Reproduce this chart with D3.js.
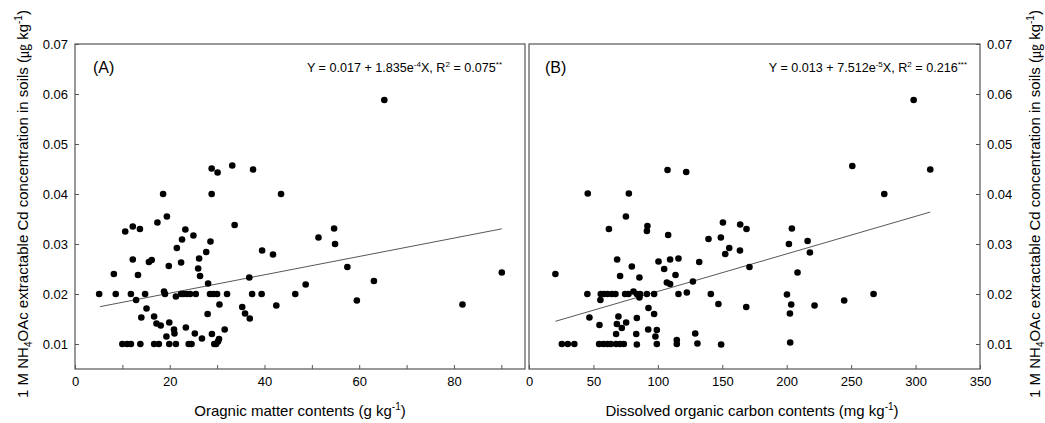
<!DOCTYPE html>
<html>
<head>
<meta charset="utf-8">
<script src="https://cdn.jsdelivr.net/npm/d3@7"></script>
<style>
body { margin: 0; background: #fff; }
text { font-family: Arial, "Liberation Sans", sans-serif; fill: #000; }
</style>
</head>
<body>
<div id="chart"></div>
<script>
// panel A: organic matter (g/kg) vs Cd
const omX = [5.1, 8.2, 8.6, 10.0, 10.6, 11.0, 11.8, 11.8, 12.2, 12.2, 12.9, 13.3, 13.7, 13.8, 14.0, 14.8, 15.1, 15.6, 16.2, 16.7,
  16.7, 17.2, 17.4, 17.7, 18.1, 18.6, 18.8, 19.0, 19.3, 19.4, 19.8, 19.9, 19.9, 20.9, 21.0, 21.3, 21.3, 21.5, 22.4, 22.4,
  22.6, 22.9, 23.3, 23.4, 23.6, 24.0, 24.3, 24.6, 25.0, 25.3, 25.5, 26.0, 26.2, 26.4, 26.8, 27.7, 28.0, 28.1, 28.5, 28.6,
  28.85, 28.85, 28.9, 29.2, 29.4, 29.8, 30.0, 30.1, 30.2, 30.4, 30.5, 31.6, 32.1, 33.2, 33.7, 35.3, 35.9, 36.8, 36.9, 37.4,
  37.6, 39.4, 39.5, 41.8, 42.5, 43.5, 46.5, 48.7, 51.4, 54.7, 54.9, 57.5, 59.5, 63.1, 65.3, 81.8, 90.1]
const omCd = [0.020, 0.024, 0.020, 0.010, 0.0325, 0.010, 0.020, 0.010, 0.0335, 0.0269, 0.0188, 0.0238, 0.033, 0.010, 0.0153, 0.020, 0.0171, 0.0264, 0.0268, 0.0155,
  0.010, 0.0141, 0.0343, 0.010, 0.0137, 0.040, 0.0205, 0.020, 0.0115, 0.0355, 0.0256, 0.0143, 0.010, 0.0129, 0.0121, 0.0195, 0.010, 0.0292, 0.0263, 0.020,
  0.0309, 0.020, 0.0329, 0.0133, 0.020, 0.010, 0.020, 0.010, 0.0317, 0.0121, 0.020, 0.0251, 0.0271, 0.0236, 0.0111, 0.0284, 0.016, 0.0221, 0.020, 0.0305,
  0.0451, 0.040, 0.012, 0.020, 0.010, 0.010, 0.020, 0.0443, 0.0105, 0.011, 0.0179, 0.0129, 0.020, 0.0457, 0.0338, 0.0174, 0.0161, 0.0233, 0.0151, 0.020,
  0.0449, 0.020, 0.0287, 0.0279, 0.0177, 0.040, 0.020, 0.0219, 0.0313, 0.0331, 0.030, 0.0254, 0.0187, 0.0226, 0.0588, 0.0179, 0.0243]

// panel B: dissolved organic carbon (mg/kg) vs Cd
const docX = [20.5, 25.5, 30.1, 35.2, 45.3, 45.6, 46.9, 54.4, 54.7, 55.4, 55.7, 57.8, 58.3, 60.9, 60.9, 62.0, 63.5, 64.3, 67.1, 67.6,
  67.6, 68.2, 68.4, 69.4, 70.7, 70.7, 72.0, 73.6, 74.6, 75.2, 75.4, 77.2, 77.5, 79.8, 81.1, 83.2, 83.7, 83.7, 83.7, 85.7,
  85.7, 86.2, 91.5, 91.5, 91.9, 92.5, 92.7, 97.1, 97.1, 98.1, 99.2, 99.2, 100.5, 104.9, 107.0, 107.5, 108.0, 109.5, 109.5, 113.7,
  114.7, 114.7, 116.0, 116.0, 122.0, 122.5, 127.2, 129.0, 130.7, 132.1, 139.3, 141.1, 147.0, 148.9, 149.1, 150.5, 152.3, 155.4, 163.7, 163.9,
  168.6, 168.8, 171.1, 200.2, 201.7, 202.5, 202.7, 203.5, 204.0, 208.4, 216.2, 218.0, 221.6, 244.6, 250.9, 267.4, 275.7, 298.5, 311.4]
const docCd = [0.024, 0.010, 0.010, 0.010, 0.020, 0.0401, 0.0153, 0.010, 0.0138, 0.0188, 0.020, 0.010, 0.020, 0.010, 0.020, 0.033, 0.010, 0.020, 0.020, 0.010,
  0.012, 0.014, 0.0269, 0.0155, 0.010, 0.0236, 0.0132, 0.010, 0.020, 0.0355, 0.0143, 0.020, 0.0401, 0.0255, 0.0205, 0.012, 0.020, 0.0152, 0.0099, 0.0233,
  0.0193, 0.020, 0.020, 0.0326, 0.0336, 0.0129, 0.0172, 0.020, 0.016, 0.0115, 0.0128, 0.010, 0.0265, 0.025, 0.0223, 0.0448, 0.0318, 0.0269, 0.022, 0.0238,
  0.0108, 0.010, 0.0271, 0.020, 0.0444, 0.0203, 0.0225, 0.0121, 0.0101, 0.0264, 0.031, 0.020, 0.018, 0.0313, 0.0099, 0.0343, 0.028, 0.0292, 0.0287, 0.0339,
  0.0174, 0.033, 0.0254, 0.0199, 0.030, 0.0161, 0.0103, 0.0179, 0.0331, 0.0243, 0.0306, 0.0283, 0.0177, 0.0187, 0.0456, 0.020, 0.040, 0.0588, 0.0449]

// fitted lines (intercept, slope, x range)
const fitA = {a: 0.0165, b: 1.835e-4, from: 5.3, to: 90.1}
const fitB = {a: 0.013, b: 7.512e-5, from: 20.5, to: 311.4}

const yTicks = [0.01, 0.02, 0.03, 0.04, 0.05, 0.06, 0.07]
const xTicksA = [0, 10, 20, 30, 40, 50, 60, 70, 80, 90]
const xTicksB = [0, 50, 100, 150, 200, 250, 300, 350]

const width = 1045
const height = 423
const plotTop = 44, plotBottom = 369

const svg = d3.select("#chart").append("svg").attr("width", width).attr("height", height)

const y = d3.scaleLinear().domain([0.005, 0.07]).range([plotBottom, plotTop])
const xA = d3.scaleLinear().domain([0, 95]).range([75, 525])
const xB = d3.scaleLinear().domain([0, 350]).range([529, 980])

function panel(x, xs, ys, fit, xTicks, labelEvery, yOnRight) {
    const g = svg.append("g")
    const [x0, x1] = x.range()

    g.append("rect").attr("x", x0).attr("y", plotTop).attr("width", x1 - x0).attr("height", plotBottom - plotTop)
        .attr("fill", "none").attr("stroke", "#555").attr("stroke-width", 1.2)

    const xAxis = d3.axisBottom(x).tickValues(xTicks).tickSize(-4).tickPadding(8)
        .tickFormat(d => d % labelEvery === 0 ? d : "")
    const xg = g.append("g").attr("transform", `translate(0, ${plotBottom})`).call(xAxis)

    const yAxis = (yOnRight ? d3.axisRight(y) : d3.axisLeft(y)).tickValues(yTicks).tickSize(-4).tickPadding(7)
        .tickFormat(d3.format(".2f"))
    const yg = g.append("g").attr("transform", `translate(${yOnRight ? x1 : x0}, 0)`).call(yAxis)

    for (const ag of [xg, yg]) {
        ag.select(".domain").remove()
        ag.selectAll(".tick line").attr("stroke", "#555")
        ag.selectAll(".tick text").attr("font-size", 13).attr("font-family", "Arial, 'Liberation Sans', sans-serif").attr("fill", "#000")
    }

    g.append("line")
        .attr("x1", x(fit.from)).attr("y1", y(fit.a + fit.b * fit.from))
        .attr("x2", x(fit.to)).attr("y2", y(fit.a + fit.b * fit.to))
        .attr("stroke", "#444").attr("stroke-width", 0.9)

    g.selectAll("circle").data(xs.map((d, i) => [d, ys[i]])).join("circle")
        .attr("cx", d => x(d[0])).attr("cy", d => y(d[1])).attr("r", 3.3).attr("fill", "#000")
    return g
}

const gA = panel(xA, omX, omCd, fitA, xTicksA, 20, false)
const gB = panel(xB, docX, docCd, fitB, xTicksB, 50, true)

// panel letters
gA.append("text").attr("x", 93).attr("y", 73).attr("font-size", 16).text("(A)")
gB.append("text").attr("x", 545).attr("y", 73).attr("font-size", 16).text("(B)")

// equations with superscripts
function equation(g, xEnd, parts) {
    const t = g.append("text").attr("x", xEnd).attr("y", 72).attr("font-size", 12.6).attr("text-anchor", "end")
    parts.forEach(p => {
        const s = t.append("tspan").text(p[0])
        if (p[1]) s.attr("font-size", 8).attr("baseline-shift", "5")
    })
}
equation(gA, 502, [["Y = 0.017 + 1.835e"], ["-4", true], ["X, R"], ["2", true], [" = 0.075"], ["**", true]])
equation(gB, 967, [["Y = 0.013 + 7.512e"], ["-5", true], ["X, R"], ["2", true], [" = 0.216"], ["***", true]])

// axis titles
function xTitle(cx, main) {
    const t = svg.append("text").attr("x", cx).attr("y", 416).attr("font-size", 15).attr("text-anchor", "middle")
    t.append("tspan").text(main)
    t.append("tspan").attr("font-size", 10).attr("baseline-shift", "6").text("-1")
    t.append("tspan").text(")")
}
xTitle(300, "Oragnic matter contents (g kg")
xTitle(752, "Dissolved organic carbon contents (mg kg")

function yTitle(cx) {
    const t = svg.append("text").attr("transform", `translate(${cx}, 204) rotate(-90)`)
        .attr("font-size", 15).attr("text-anchor", "middle")
    t.append("tspan").text("1 M NH")
    t.append("tspan").attr("font-size", 10).attr("baseline-shift", "-4").text("4")
    t.append("tspan").text("OAc extractable Cd concentration in soils (")
    t.append("tspan").attr("font-family", "'Noto Sans CJK KR', sans-serif").attr("font-size", 14).text("㎍")
    t.append("tspan").text(" kg")
    t.append("tspan").attr("font-size", 10).attr("baseline-shift", "6").text("-1")
    t.append("tspan").text(")")
}
yTitle(28)
yTitle(1040)
</script>
</body>
</html>
